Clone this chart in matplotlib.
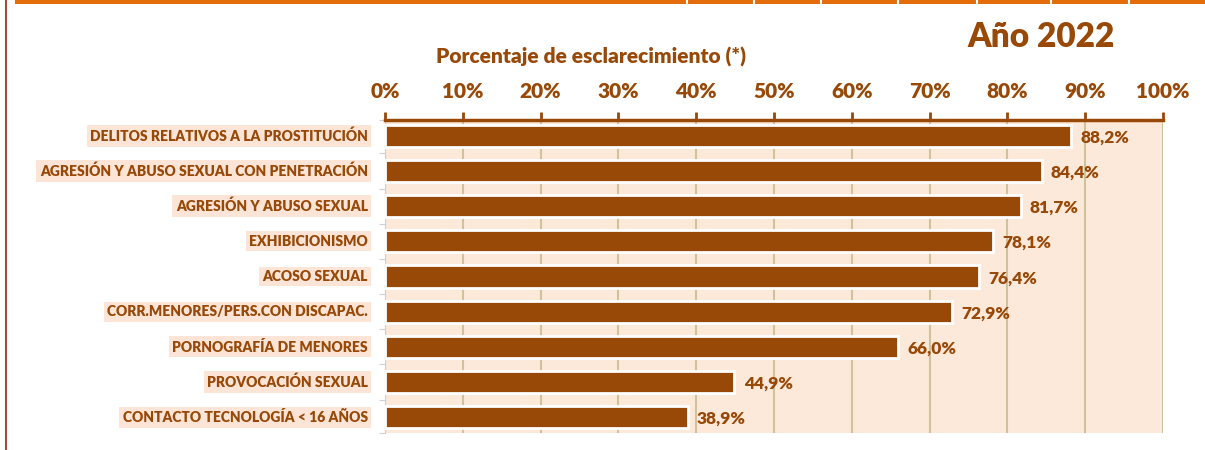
import matplotlib.pyplot as plt
from matplotlib.patches import Rectangle
from matplotlib.lines import Line2D

plt.rcParams['font.family'] = ['Lato', 'DejaVu Sans']

categories = ["DELITOS RELATIVOS A LA PROSTITUCIÓN",
              "AGRESIÓN Y ABUSO SEXUAL CON PENETRACIÓN",
              "AGRESIÓN Y ABUSO SEXUAL",
              "EXHIBICIONISMO",
              "ACOSO SEXUAL",
              "CORR.MENORES/PERS.CON DISCAPAC.",
              "PORNOGRAFÍA DE MENORES",
              "PROVOCACIÓN SEXUAL",
              "CONTACTO TECNOLOGÍA < 16 AÑOS"]
values = [88.2, 84.4, 81.7, 78.1, 76.4, 72.9, 66.0, 44.9, 38.9]
ticks = [0, 10, 20, 30, 40, 50, 60, 70, 80, 90, 100]

brown = '#984807'
peach = '#FDE9D9'
grid_c = '#CFC39E'
wt = 'heavy'

fig = plt.figure(figsize=(12.05, 4.5), dpi=100)
ax = fig.add_axes([385 / 1205, 1 - 433 / 450, 778 / 1205, 313 / 450])
ax.set_facecolor(peach)

ypos = list(range(len(categories)))
ax.barh(ypos, values, height=0.63, color=brown, edgecolor='white', linewidth=2, zorder=3)

for y, v in zip(ypos, values):
    ax.text(v + 1.2, y + 0.05, "{:.1f}%".format(v).replace('.', ','), va='center', ha='left',
            fontsize=12.5, fontweight=wt, color=brown, zorder=4)

ax.set_xlim(0, 100)
ax.set_ylim(len(categories) - 0.55, -0.45)
ax.set_xticks(ticks)
ax.set_xticklabels(["{}%".format(t) for t in ticks], fontsize=15, fontweight=wt, color=brown)
ax.xaxis.tick_top()
ax.tick_params(axis='x', direction='out', length=6, width=2, color=brown, pad=8)
ax.grid(axis='x', color=grid_c, linewidth=1.5, zorder=1)

ax.set_yticks([y + 0.5 for y in ypos[:-1]] + [-0.45, len(categories) - 0.55])
ax.set_yticklabels([])
ax.tick_params(axis='y', direction='out', length=4, color='#D0D0D0')

for y, c in zip(ypos, categories):
    ax.text(-2.2, y, c, ha='right', va='center', fontsize=10, fontweight=wt, color=brown,
            bbox=dict(facecolor='#FCE4D6', edgecolor='none', pad=2.5))

for s in ['right', 'bottom']:
    ax.spines[s].set_visible(False)
ax.spines['top'].set_color(brown)
ax.spines['top'].set_linewidth(2.5)
ax.spines['left'].set_color('#D0D0D0')

fig.text(591 / 1205, 1 - 57 / 450, "Porcentaje de esclarecimiento (*)", ha='center', va='center',
         fontsize=15, fontweight=wt, color=brown)
fig.text(1041 / 1205, 1 - 37 / 450, "Año 2022", ha='center', va='center',
         fontsize=24, fontweight=wt, color=brown)

# top band and left border
fig.patches.append(Rectangle((15 / 1205, 1 - 4 / 450), 1, 4 / 450, transform=fig.transFigure,
                             facecolor='#E46C0A', edgecolor='none'))
for xp in [687, 754, 821, 898, 977, 1051, 1129]:
    fig.lines.append(Line2D([xp / 1205, xp / 1205], [1 - 4 / 450, 1], transform=fig.transFigure,
                            color='white', linewidth=1.5))
fig.lines.append(Line2D([6 / 1205, 6 / 1205], [0, 1], transform=fig.transFigure,
                        color='#A0522D', linewidth=1.5))

fig.savefig("out.png", dpi=100)
